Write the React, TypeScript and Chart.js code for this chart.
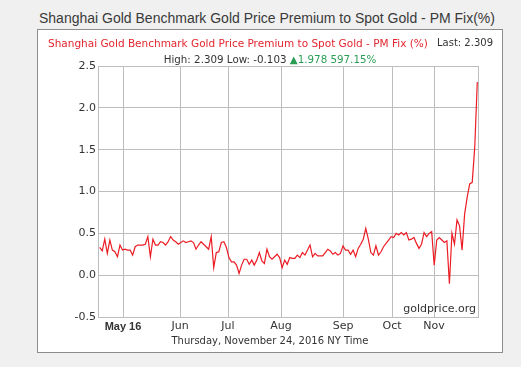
import React, { useEffect, useRef } from "react";
import { Chart, registerables } from "chart.js";

Chart.register(...registerables);

// Shanghai Gold Benchmark PM premium to spot gold (%), trading days, ~Apr 20 – Nov 24, 2016
const premium: number[] = [
  0.331, 0.29, 0.43, 0.26, 0.42, 0.30, 0.28, 0.22, 0.36, 0.30,
  0.31, 0.30, 0.30, 0.24, 0.34, 0.36, 0.36, 0.36, 0.37, 0.46,
  0.22, 0.43, 0.36, 0.36, 0.40, 0.39, 0.36, 0.40, 0.46, 0.42,
  0.40, 0.37, 0.39, 0.41, 0.39, 0.40, 0.41, 0.39, 0.31, 0.36,
  0.40, 0.37, 0.34, 0.31, 0.46, 0.09, 0.27, 0.28, 0.39, 0.40,
  0.33, 0.21, 0.16, 0.16, 0.12, 0.02, 0.12, 0.19, 0.19, 0.13,
  0.18, 0.12, 0.18, 0.27, 0.17, 0.14, 0.31, 0.22, 0.19, 0.22,
  0.25, 0.21, 0.09, 0.18, 0.13, 0.21, 0.20, 0.20, 0.24, 0.21,
  0.27, 0.24, 0.30, 0.36, 0.22, 0.26, 0.23, 0.23, 0.23, 0.27,
  0.31, 0.29, 0.25, 0.27, 0.24, 0.26, 0.35, 0.30, 0.30, 0.25,
  0.30, 0.22, 0.32, 0.37, 0.43, 0.56, 0.43, 0.27, 0.24, 0.35,
  0.24, 0.28, 0.34, 0.38, 0.42, 0.46, 0.45, 0.50, 0.48, 0.51,
  0.48, 0.51, 0.42, 0.43, 0.45, 0.38, 0.32, 0.37, 0.51, 0.46,
  0.50, 0.52, 0.12, 0.42, 0.45, 0.42, 0.39, 0.41, -0.103, 0.50,
  0.37, 0.66, 0.59, 0.30, 0.73, 0.93, 1.09, 1.11, 1.53, 2.309,
];

// month boundaries expressed in trading-day index units
const monthTickIndex: number[] = [9.2, 31.69, 50.63, 71.55, 96.02, 115.35, 131.93];
const monthTickLabels: string[] = ["May 16", "Jun", "Jul", "Aug", "Sep", "Oct", "Nov"];

const yMin = -0.5;
const yMax = 2.5;
const yStep = 0.5;

const titleText = "Shanghai Gold Benchmark Gold Price Premium to Spot Gold - PM Fix(%)";
const seriesName = "Shanghai Gold Benchmark Gold Price Premium to Spot Gold - PM Fix (%)";
const lastText = "Last: 2.309";
const highLowText = "High: 2.309 Low: -0.103 ";
const changeText = "1.978 597.15%";
const dateText = "Thursday, November 24, 2016 NY Time";
const sourceText = "goldprice.org";

const GRID = "#bdbdbd";
const LINE = "#ec1c24";
const TEXT = "#333333";

const framePlugin = {
  id: "frame",
  beforeDatasetsDraw(chart: any) {
    const { ctx, chartArea } = chart;
    ctx.save();
    ctx.strokeStyle = GRID;
    ctx.lineWidth = 1;
    ctx.strokeRect(
      Math.round(chartArea.left) + 0.5,
      Math.round(chartArea.top) + 0.5,
      Math.round(chartArea.right - chartArea.left),
      Math.round(chartArea.bottom - chartArea.top)
    );
    ctx.restore();
  },
};

export default function App() {
  const canvasRef = useRef<HTMLCanvasElement | null>(null);

  useEffect(() => {
    if (!canvasRef.current) return;
    const chart = new Chart(canvasRef.current, {
      type: "line",
      data: {
        datasets: [
          {
            label: seriesName,
            data: premium.map((v, i) => ({ x: i, y: v })),
            borderColor: LINE,
            borderWidth: 1.2,
            pointRadius: 0,
            tension: 0,
            fill: false,
          },
        ],
      },
      options: {
        responsive: false,
        animation: false,
        devicePixelRatio: 1,
        layout: { padding: { left: 0, top: 36, right: 24, bottom: 0 } },
        plugins: {
          legend: { display: false },
          tooltip: { enabled: false },
          title: { display: false },
        },
        scales: {
          x: {
            type: "linear",
            min: -0.67,
            max: premium.length - 1 + 0.28,
            afterBuildTicks: (scale: any) => {
              scale.ticks = monthTickIndex.map((v) => ({ value: v }));
            },
            afterFit: (scale: any) => {
              scale.height = 35;
            },
            grid: { color: GRID, drawTicks: false, lineWidth: 1 },
            border: { display: true, color: GRID },
            ticks: {
              autoSkip: false,
              maxRotation: 0,
              padding: 3,
              color: TEXT,
              callback: (_v: any, i: number) => monthTickLabels[i],
              font: (ctx: any) =>
                ctx.index === 0
                  ? { family: "'Liberation Sans', Arial, sans-serif", size: 11, weight: "bold" }
                  : { family: "'DejaVu Sans', Verdana, sans-serif", size: 11, weight: "normal" },
            },
          },
          y: {
            type: "linear",
            min: yMin,
            max: yMax,
            afterFit: (scale: any) => {
              scale.width = 60;
            },
            grid: { color: GRID, drawTicks: false, lineWidth: 1 },
            border: { display: true, color: GRID },
            ticks: {
              stepSize: yStep,
              padding: 2,
              color: TEXT,
              font: { family: "'DejaVu Sans', Verdana, sans-serif", size: 11 },
              callback: (v: any) => Number(v).toFixed(1),
            },
          },
        },
      },
      plugins: [framePlugin],
    });
    return () => chart.destroy();
  }, []);

  const dv = "'DejaVu Sans', Verdana, sans-serif";

  return (
    <div
      style={{
        position: "fixed",
        left: 0,
        top: 0,
        width: 521,
        height: 367,
        background: "#f0f0f0",
        overflow: "hidden",
      }}
    >
      <div
        style={{
          position: "absolute",
          left: 39,
          top: 10,
          fontFamily: "'Liberation Sans', Arial, sans-serif",
          fontSize: 14,
          lineHeight: "16px",
          color: "#3a3a3a",
          whiteSpace: "nowrap",
        }}
      >
        {titleText}
      </div>
      <div
        style={{
          position: "absolute",
          left: 37,
          top: 29,
          width: 464,
          height: 322,
          border: "1px solid #8c8c8c",
          background: "#ffffff",
        }}
      />
      <canvas
        ref={canvasRef}
        width={464}
        height={322}
        style={{ position: "absolute", left: 38, top: 30, width: 464, height: 322, display: "block" }}
      />
      <div
        style={{
          position: "absolute",
          left: 48,
          top: 36,
          fontFamily: dv,
          fontSize: 10.5,
          lineHeight: "14px",
          color: "#e3262f",
          whiteSpace: "nowrap",
        }}
      >
        {seriesName}
      </div>
      <div
        style={{
          position: "absolute",
          right: 28,
          top: 36,
          fontFamily: dv,
          fontSize: 10,
          lineHeight: "14px",
          color: TEXT,
          whiteSpace: "nowrap",
        }}
      >
        {lastText}
      </div>
      <div
        style={{
          position: "absolute",
          left: 37,
          width: 466,
          top: 52,
          textAlign: "center",
          fontFamily: dv,
          fontSize: 10.3,
          lineHeight: "14px",
          color: TEXT,
          whiteSpace: "nowrap",
        }}
      >
        {highLowText}
        <span style={{ color: "#2a9d55" }}>{"\u25B2"}</span>
        <span style={{ color: "#2a9d55" }}>{changeText}</span>
      </div>
      <div
        style={{
          position: "absolute",
          right: 45,
          top: 302,
          fontFamily: dv,
          fontSize: 11,
          lineHeight: "14px",
          color: TEXT,
          whiteSpace: "nowrap",
        }}
      >
        {sourceText}
      </div>
      <div
        style={{
          position: "absolute",
          left: 37,
          width: 466,
          top: 334,
          textAlign: "center",
          fontFamily: dv,
          fontSize: 10,
          lineHeight: "14px",
          color: TEXT,
          whiteSpace: "nowrap",
        }}
      >
        {dateText}
      </div>
    </div>
  );
}
